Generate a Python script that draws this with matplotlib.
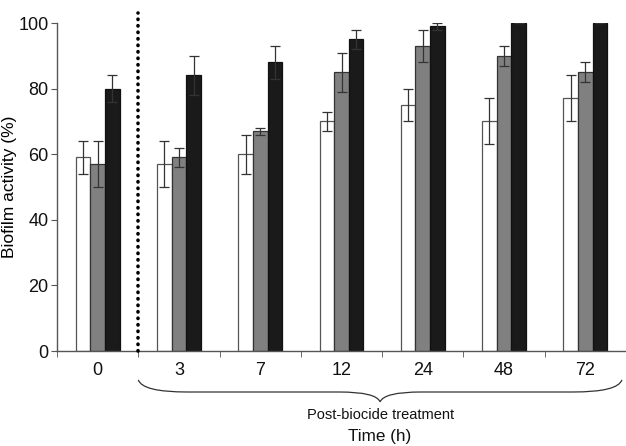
import numpy as np
import matplotlib
matplotlib.use("Agg")
import matplotlib.pyplot as plt
from matplotlib.path import Path
from matplotlib.patches import PathPatch

plt.rcParams['font.family'] = ['Liberation Sans', 'DejaVu Sans']

# data
times = ["0", "3", "7", "12", "24", "48", "72"]
white_vals = [59, 57, 60, 70, 75, 70, 77]
white_err = [5, 7, 6, 3, 5, 7, 7]
grey_vals = [57, 59, 67, 85, 93, 90, 85]
grey_err = [7, 3, 1, 6, 5, 3, 3]
black_vals = [80, 84, 88, 95, 99, 100, 100]
black_err = [4, 6, 5, 3, 1, 0, 0]

fig = plt.figure(figsize=(6.26, 4.46), dpi=100)
ax = fig.add_axes([57 / 626, 95 / 446, 1 - 57 / 626, 328 / 446])

x = np.arange(len(times))
w = 0.18
ekw = dict(ecolor="#333333", elinewidth=0.9, capsize=3.5, capthick=0.9)
ax.bar(x - w, white_vals, w, yerr=white_err, color="white",
       edgecolor="#555555", linewidth=0.9, error_kw=ekw)
ax.bar(x, grey_vals, w, yerr=grey_err, color="#808080",
       edgecolor="#333333", linewidth=0.9, error_kw=ekw)
ax.bar(x + w, black_vals, w, yerr=black_err, color="#1a1a1a",
       edgecolor="#111111", linewidth=0.9, error_kw=ekw)

# divider between pre- and post-treatment
ax.plot([0.5, 0.5], [0, 103], color="black", lw=2.6, ls=(0, (0.1, 1.7)),
        dash_capstyle="round", clip_on=False, zorder=5)

ax.set_xlim(-0.5, 6.47)
ax.set_ylim(0, 100)
ax.set_yticks([0, 20, 40, 60, 80, 100])
ax.set_xticks(x)
ax.set_xticklabels(times)
ax.set_xticks(np.arange(-0.5, 7, 1.0), minor=True)
ax.tick_params(axis="x", which="major", length=0, labelsize=13,
               pad=8, labelcolor="#111111")
ax.tick_params(axis="x", which="minor", length=4, color="#555555")
ax.tick_params(axis="y", length=4, color="#555555", labelsize=13,
               labelcolor="#111111", pad=2)
for s in ["top", "right"]:
    ax.spines[s].set_visible(False)
for s in ["left", "bottom"]:
    ax.spines[s].set_color("#555555")
    ax.spines[s].set_linewidth(1.0)

ax.set_ylabel("Biofilm activity (%)", fontsize=12.5)
ax.yaxis.set_label_coords(-0.07, 0.5)

# curly brace under the post-treatment groups
x0, x1 = 0.5, 6.45
xm = (x0 + x1) / 2
y_end, y_flat, y_tip = -8.8, -12.5, -15.5
verts = [(x0, y_end), (x0 + 0.05, y_flat), (x0 + 0.6, y_flat),
         (xm - 0.5, y_flat), (xm - 0.05, y_flat), (xm, y_tip),
         (xm + 0.05, y_flat), (xm + 0.5, y_flat),
         (x1 - 0.6, y_flat), (x1 - 0.05, y_flat), (x1, y_end)]
codes = [Path.MOVETO, Path.CURVE3, Path.CURVE3,
         Path.LINETO, Path.CURVE3, Path.CURVE3,
         Path.CURVE3, Path.CURVE3,
         Path.LINETO, Path.CURVE3, Path.CURVE3]
ax.add_patch(PathPatch(Path(verts, codes), fill=False, edgecolor="#333333",
                       lw=0.9, clip_on=False))

ax.text(xm, -19.5, "Post-biocide treatment", ha="center", va="center",
        fontsize=10.5, color="#111111", clip_on=False)
ax.text(xm, -26.2, "Time (h)", ha="center", va="center",
        fontsize=12.3, color="#111111", clip_on=False)

fig.savefig("out.png", dpi=100)
